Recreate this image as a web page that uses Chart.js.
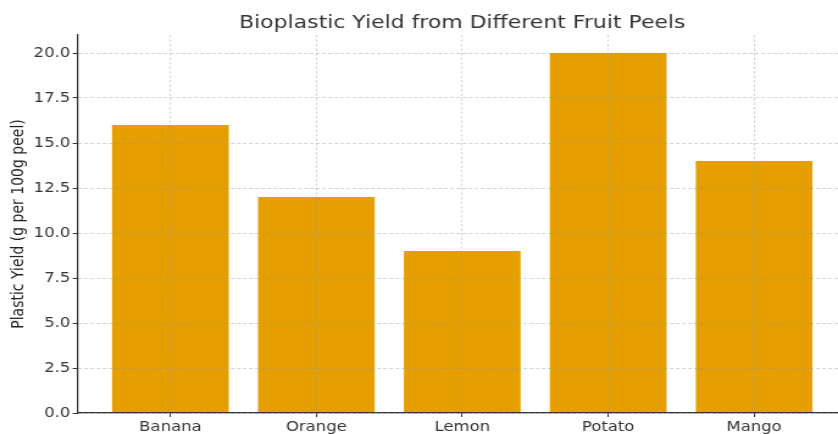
<!DOCTYPE html>
<html><head><meta charset="utf-8">
<script src="https://cdn.jsdelivr.net/npm/chart.js@4/dist/chart.umd.min.js"></script>
<style>
html,body{margin:0;padding:0;background:#fff;overflow:hidden;}
#wrap{width:838px;height:434px;overflow:hidden;}
#c{display:block;transform-origin:0 0;}
</style></head><body>
<div id="wrap"><canvas id="c" width="687" height="434"></canvas></div>
<script>
const categories = ['Banana', 'Orange', 'Lemon', 'Potato', 'Mango'];
const yields = [16, 12, 9, 20, 14];
const yTicks = [0, 2.5, 5, 7.5, 10, 12.5, 15, 17.5, 20];
const titleText = 'Bioplastic Yield from Different Fruit Peels';
const yTitleText = 'Plastic Yield (g per 100g peel)';

const SX = 838 / 687;
const canvas = document.getElementById('c');
canvas.style.transform = 'scaleX(' + SX + ')';

const FONT = '"DejaVu Sans", sans-serif';
const GRID = 'rgba(150,150,150,0.42)';

const titlePlugin = {
  id: 'ttl',
  afterDraw(chart) {
    const ctx = chart.ctx;
    const x = chart.scales.x.getPixelForValue((categories.length - 1) / 2);
    ctx.save();
    ctx.font = '18px ' + FONT;
    ctx.fillStyle = '#333';
    ctx.textAlign = 'center';
    ctx.textBaseline = 'alphabetic';
    ctx.fillText(titleText, x, 27.5);
    ctx.restore();
  }
};

new Chart(canvas, {
  type: 'bar',
  data: {
    datasets: [{
      data: yields.map((v, i) => ({ x: i, y: v })),
      backgroundColor: '#E69F00',
      borderWidth: 0,
      categoryPercentage: 1,
      barPercentage: 0.8
    }]
  },
  options: {
    responsive: false,
    animation: false,
    devicePixelRatio: 1,
    layout: { padding: { top: 35, left: 0, right: 0, bottom: 0 } },
    plugins: { legend: { display: false }, tooltip: { enabled: false }, title: { display: false } },
    scales: {
      x: {
        type: 'linear',
        offset: false,
        min: -0.64,
        max: 4.575,
        afterBuildTicks: s => { s.ticks = categories.map((_, i) => ({ value: i })); },
        afterFit: s => { s.height = 21; },
        ticks: {
          callback: v => categories[v],
          font: { family: FONT, size: 13.5 },
          color: '#333',
          padding: 2,
          maxRotation: 0,
          autoSkip: false
        },
        grid: {
          offset: false,
          color: GRID, z: 1, lineWidth: 1,
          tickLength: 4, tickColor: '#333', tickWidth: 1, tickBorderDash: [0, 0]
        },
        border: { display: true, color: '#333', width: 1.2, dash: [2.5, 2], z: 2 }
      },
      y: {
        min: 0,
        max: 21,
        afterBuildTicks: s => { s.ticks = yTicks.map(v => ({ value: v })); },
        afterFit: s => { s.width = 77 / SX; },
        ticks: {
          callback: v => Number(v).toFixed(1),
          font: { family: FONT, size: 13.5 },
          color: '#333',
          padding: 2
        },
        grid: {
          color: GRID, z: 1, lineWidth: 1,
          tickLength: 3.5, tickColor: '#333', tickWidth: 1, tickBorderDash: [0, 0]
        },
        border: { display: true, color: '#333', width: 1.2, dash: [3, 2], z: 2 },
        title: {
          display: true,
          text: yTitleText,
          font: { family: FONT, size: 14 },
          color: '#222',
          padding: { top: 7, bottom: 0 }
        }
      }
    }
  },
  plugins: [titlePlugin]
});
</script>
</body></html>
